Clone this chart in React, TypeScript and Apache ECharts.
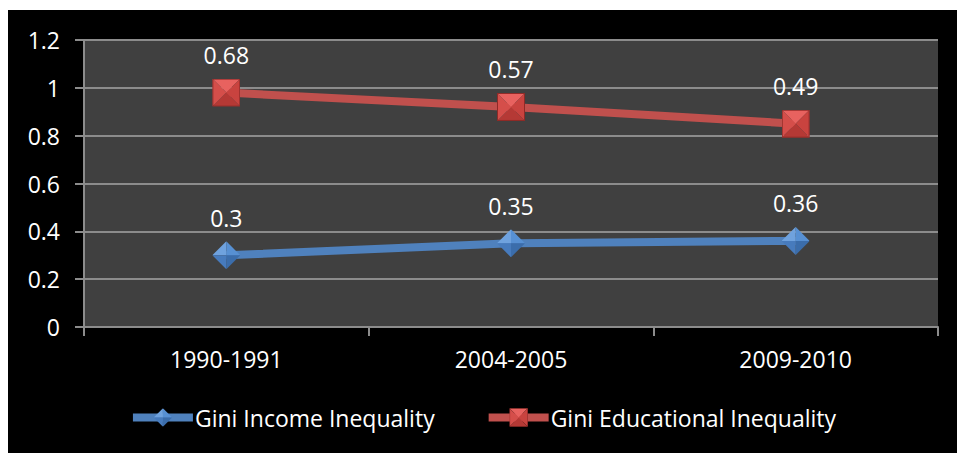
import React, { useEffect, useRef } from "react";
import * as echarts from "echarts";

const categories = ["1990-1991", "2004-2005", "2009-2010"];
const incomeValues = [0.3, 0.35, 0.36];
const educationValues = [0.68, 0.57, 0.49];
const seriesNames = ["Gini Income Inequality", "Gini Educational Inequality"];

const FONT = "'Open Sans', sans-serif";
const FS = 23;

const redSquareSvg =
  '<svg xmlns="http://www.w3.org/2000/svg" width="28" height="28" viewBox="0 0 28 28">' +
  '<polygon points="0,0 28,0 14,14" fill="#e8625f"/>' +
  '<polygon points="28,0 28,28 14,14" fill="#c9433f"/>' +
  '<polygon points="0,28 28,28 14,14" fill="#b53935"/>' +
  '<polygon points="0,0 0,28 14,14" fill="#d54e4a"/>' +
  '<rect x="0.5" y="0.5" width="27" height="27" fill="none" stroke="#8e2a27" stroke-width="1"/>' +
  "</svg>";

const blueDiamondSvg =
  '<svg xmlns="http://www.w3.org/2000/svg" width="28" height="28" viewBox="0 0 28 28">' +
  '<polygon points="0,14 14,0 14,14" fill="#6fa2de"/>' +
  '<polygon points="14,0 28,14 14,14" fill="#5790d3"/>' +
  '<polygon points="28,14 14,28 14,14" fill="#3b6dab"/>' +
  '<polygon points="0,14 14,28 14,14" fill="#477bbd"/>' +
  "</svg>";

const toUri = (s: string) => "image://data:image/svg+xml;charset=utf-8," + encodeURIComponent(s);

export default function App() {
  const ref = useRef<HTMLDivElement>(null);
  useEffect(() => {
    if (!ref.current) return;
    const chart = echarts.init(ref.current, null, { renderer: "svg" });
    chart.setOption({
      animation: false,
      backgroundColor: "#000000",
      textStyle: { fontFamily: FONT },
      grid: {
        left: 76,
        right: 19,
        top: 30,
        bottom: 126,
        show: true,
        backgroundColor: "#404040",
        borderWidth: 0,
      },
      legend: {
        data: seriesNames,
        bottom: 19,
        left: "center",
        itemWidth: 60,
        itemHeight: 23,
        itemGap: 50,
        lineStyle: { width: 8 },
        textStyle: { color: "#ffffff", fontSize: FS, fontFamily: FONT, padding: [0, 0, 0, -3] },
      },
      xAxis: {
        type: "category",
        data: categories,
        boundaryGap: true,
        axisLine: { show: true, lineStyle: { color: "#8c8c8c", width: 2 } },
        axisTick: { show: true, length: 9, lineStyle: { color: "#8c8c8c", width: 2 } },
        axisLabel: { color: "#ffffff", fontSize: FS, margin: 20, fontFamily: FONT },
      },
      yAxis: {
        type: "value",
        min: 0,
        max: 1.2,
        interval: 0.2,
        axisLine: { show: true, lineStyle: { color: "#8c8c8c", width: 2 } },
        axisTick: { show: true, length: 9, lineStyle: { color: "#8c8c8c", width: 2 } },
        splitLine: { show: true, lineStyle: { color: "#8c8c8c", width: 2 } },
        axisLabel: {
          color: "#ffffff",
          fontSize: FS,
          margin: 24,
          fontFamily: FONT,
          formatter: (v: number) => String(Math.round(v * 10) / 10),
        },
      },
      series: [
        {
          name: seriesNames[0],
          type: "line",
          stack: "total",
          data: incomeValues,
          symbol: toUri(blueDiamondSvg),
          symbolSize: 28,
          lineStyle: { color: "#4f81bd", width: 8 },
          itemStyle: { color: "#4f81bd" },
          label: {
            show: true,
            position: "top",
            distance: 12,
            color: "#ffffff",
            fontSize: FS,
            fontFamily: FONT,
            formatter: (p: any) => String(incomeValues[p.dataIndex]),
          },
        },
        {
          name: seriesNames[1],
          type: "line",
          stack: "total",
          data: educationValues,
          symbol: toUri(redSquareSvg),
          symbolSize: 28,
          lineStyle: { color: "#c0504d", width: 8 },
          itemStyle: { color: "#c0504d" },
          label: {
            show: true,
            position: "top",
            distance: 12,
            color: "#ffffff",
            fontSize: FS,
            fontFamily: FONT,
            formatter: (p: any) => String(educationValues[p.dataIndex]),
          },
        },
      ],
    });
    return () => chart.dispose();
  }, []);
  return (
    <div
      ref={ref}
      style={{ position: "fixed", left: 8, top: 10, width: 949, height: 443 }}
    />
  );
}
